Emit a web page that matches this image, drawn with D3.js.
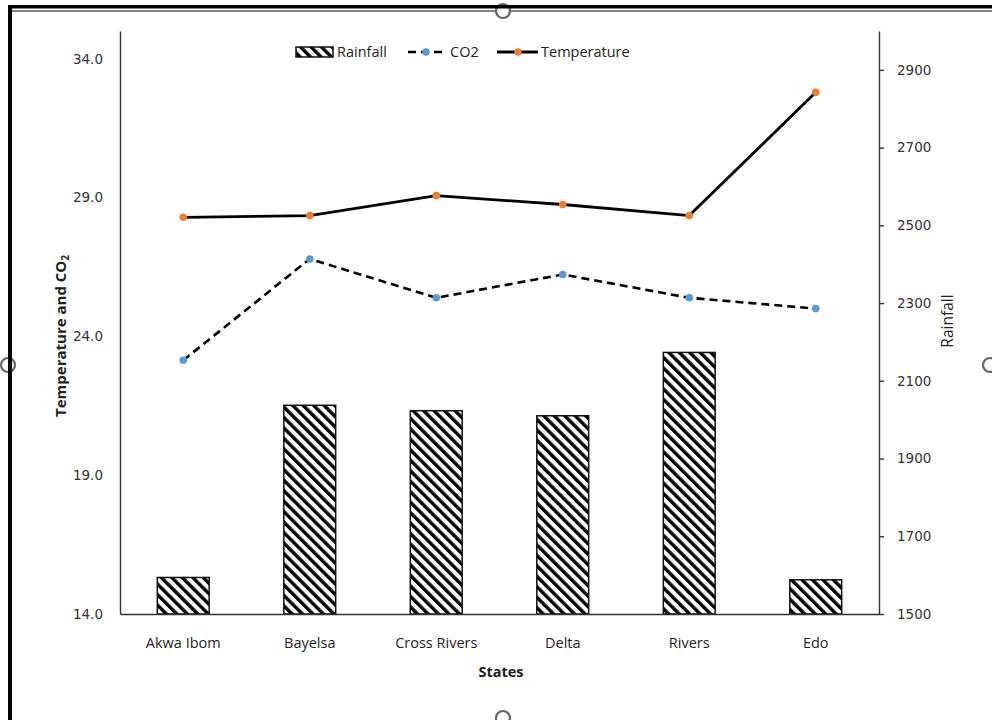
<!DOCTYPE html>
<html>
<head>
<meta charset="utf-8">
<script src="https://cdn.jsdelivr.net/npm/d3@7"></script>
<style>
  body { margin: 0; background: #fff; }
  svg { display: block; }
</style>
</head>
<body>
<svg id="chart" width="992" height="720"></svg>
<script>
// Climate indicators by state
const states = ["Akwa Ibom", "Bayelsa", "Cross Rivers", "Delta", "Rivers", "Edo"];
const rainfall = [1594, 2037, 2023, 2010, 2173, 1588];
const co2 = [23.14, 26.79, 25.39, 26.23, 25.39, 25.0];
const temperature = [28.29, 28.35, 29.07, 28.75, 28.35, 32.79];
const leftTicks = [14, 19, 24, 29, 34];
const rightTicks = [1500, 1700, 1900, 2100, 2300, 2500, 2700, 2900];

const svg = d3.select("#chart");
const plot = { left: 120, right: 879, top: 31, bottom: 614 };
const labelFont = "'Open Sans', 'DejaVu Sans', sans-serif";
const numFont = "'DejaVu Sans', sans-serif";
const inkGrey = "#333";

// Diagonal hatch used by the rainfall bars
const defs = svg.append("defs");
defs.append("pattern")
  .attr("id", "hatch")
  .attr("patternUnits", "userSpaceOnUse")
  .attr("width", 7.4).attr("height", 7.4)
  .attr("patternTransform", "rotate(-45)")
  .append("rect")
  .attr("x", 0).attr("y", 0).attr("width", 3.4).attr("height", 7.4)
  .attr("fill", "#000");

// Scales
const x = d3.scaleBand().domain(states).range([plot.left, plot.right]);
const yLeft = d3.scaleLinear().domain([14, 35]).range([plot.bottom, plot.top]);
const yRight = d3.scaleLinear().domain([1500, 3000]).range([plot.bottom, plot.top]);
const cx = d => x(d) + x.bandwidth() / 2;
const barW = x.bandwidth() * 0.41;

// Rainfall bars (right axis)
svg.append("g").selectAll("rect")
  .data(states)
  .join("rect")
  .attr("x", (d) => cx(d) - barW / 2)
  .attr("y", (d, i) => yRight(rainfall[i]))
  .attr("width", barW)
  .attr("height", (d, i) => yRight(1500) - yRight(rainfall[i]))
  .attr("fill", "url(#hatch)")
  .attr("stroke", "#111")
  .attr("stroke-width", 1.5);

// Axes
const leftAxis = svg.append("g")
  .attr("transform", `translate(${plot.left},0)`)
  .call(d3.axisLeft(yLeft).tickValues(leftTicks).tickFormat(d3.format(".1f"))
    .tickSizeInner(0).tickSizeOuter(0).tickPadding(17));

const rightAxis = svg.append("g")
  .attr("transform", `translate(${plot.right},0)`)
  .call(d3.axisRight(yRight).tickValues(rightTicks).tickFormat(d3.format("d"))
    .tickSizeInner(5).tickSizeOuter(0).tickPadding(13));

const bottomAxis = svg.append("g")
  .attr("transform", `translate(0,${plot.bottom})`)
  .call(d3.axisBottom(x).tickSizeInner(0).tickSizeOuter(0).tickPadding(24));

[leftAxis, rightAxis, bottomAxis].forEach(g => {
  g.select(".domain").attr("stroke", inkGrey).attr("stroke-width", 1.4);
  g.selectAll(".tick line").attr("stroke", inkGrey).attr("stroke-width", 1.4);
});
leftAxis.selectAll("text").attr("font-family", numFont).attr("font-size", 13.5).attr("fill", inkGrey);
rightAxis.selectAll("text").attr("font-family", numFont).attr("font-size", 13.5).attr("fill", inkGrey);
bottomAxis.selectAll("text").attr("font-family", labelFont).attr("font-size", 14.5).attr("fill", "#222");

// CO2 series (dashed)
svg.append("path")
  .datum(co2)
  .attr("fill", "none")
  .attr("stroke", "#000")
  .attr("stroke-width", 2.6)
  .attr("stroke-dasharray", "8,5")
  .attr("d", d3.line().x((d, i) => cx(states[i])).y(d => yLeft(d)));

// Temperature series (solid)
svg.append("path")
  .datum(temperature)
  .attr("fill", "none")
  .attr("stroke", "#000")
  .attr("stroke-width", 2.8)
  .attr("d", d3.line().x((d, i) => cx(states[i])).y(d => yLeft(d)));

svg.append("g").selectAll("circle")
  .data(co2).join("circle")
  .attr("cx", (d, i) => cx(states[i])).attr("cy", d => yLeft(d))
  .attr("r", 3.8).attr("fill", "#5B9BD5");

svg.append("g").selectAll("circle")
  .data(temperature).join("circle")
  .attr("cx", (d, i) => cx(states[i])).attr("cy", d => yLeft(d))
  .attr("r", 3.8).attr("fill", "#ED7D31");

// Axis titles
const leftTitle = svg.append("text")
  .attr("transform", "translate(66,336) rotate(-90)")
  .attr("text-anchor", "middle")
  .attr("font-family", labelFont).attr("font-size", 15).attr("font-weight", "bold")
  .attr("fill", "#222");
leftTitle.append("tspan").text("Temperature and CO");
leftTitle.append("tspan").attr("font-size", 10).attr("dy", 3).text("2");

svg.append("text")
  .attr("transform", "translate(953,321) rotate(-90)")
  .attr("text-anchor", "middle")
  .attr("font-family", labelFont).attr("font-size", 15.5)
  .attr("fill", "#222")
  .text("Rainfall");

svg.append("text")
  .attr("x", 501).attr("y", 677)
  .attr("text-anchor", "middle")
  .attr("font-family", labelFont).attr("font-size", 14.5).attr("font-weight", "bold")
  .attr("fill", "#222")
  .text("States");

// Legend
const legend = svg.append("g").attr("font-family", labelFont).attr("font-size", 14.5).attr("fill", "#222");
const ly = 52;
legend.append("rect")
  .attr("x", 296).attr("y", ly - 5).attr("width", 37).attr("height", 10)
  .attr("fill", "url(#hatch)").attr("stroke", "#111").attr("stroke-width", 1.5);
legend.append("text").attr("x", 337).attr("y", ly + 5).text("Rainfall");

legend.append("line")
  .attr("x1", 408).attr("x2", 445).attr("y1", ly).attr("y2", ly)
  .attr("stroke", "#000").attr("stroke-width", 2.6).attr("stroke-dasharray", "8,5");
legend.append("circle").attr("cx", 426).attr("cy", ly).attr("r", 3.8).attr("fill", "#5B9BD5");
legend.append("text").attr("x", 450).attr("y", ly + 5).text("CO2");

legend.append("line")
  .attr("x1", 497).attr("x2", 538).attr("y1", ly).attr("y2", ly)
  .attr("stroke", "#000").attr("stroke-width", 2.8);
legend.append("circle").attr("cx", 518).attr("cy", ly).attr("r", 3.8).attr("fill", "#ED7D31");
legend.append("text").attr("x", 541).attr("y", ly + 5).text("Temperature");

// Surrounding frame with its sizing handles
const frame = svg.append("g");
frame.append("line").attr("x1", 12).attr("x2", 992).attr("y1", 11).attr("y2", 11)
  .attr("stroke", "#888").attr("stroke-width", 2);
const handles = [[503, 11], [8, 365], [990, 365], [503, 718]];
frame.selectAll("circle.handle").data(handles).join("circle")
  .attr("class", "handle")
  .attr("cx", d => d[0]).attr("cy", d => d[1]).attr("r", 7)
  .attr("fill", "#fff").attr("stroke", "#666").attr("stroke-width", 2.2);
frame.append("rect").attr("x", 8).attr("y", 5).attr("width", 984).attr("height", 3.5).attr("fill", "#000");
frame.append("rect").attr("x", 8).attr("y", 5).attr("width", 4).attr("height", 715).attr("fill", "#000");
</script>
</body>
</html>
